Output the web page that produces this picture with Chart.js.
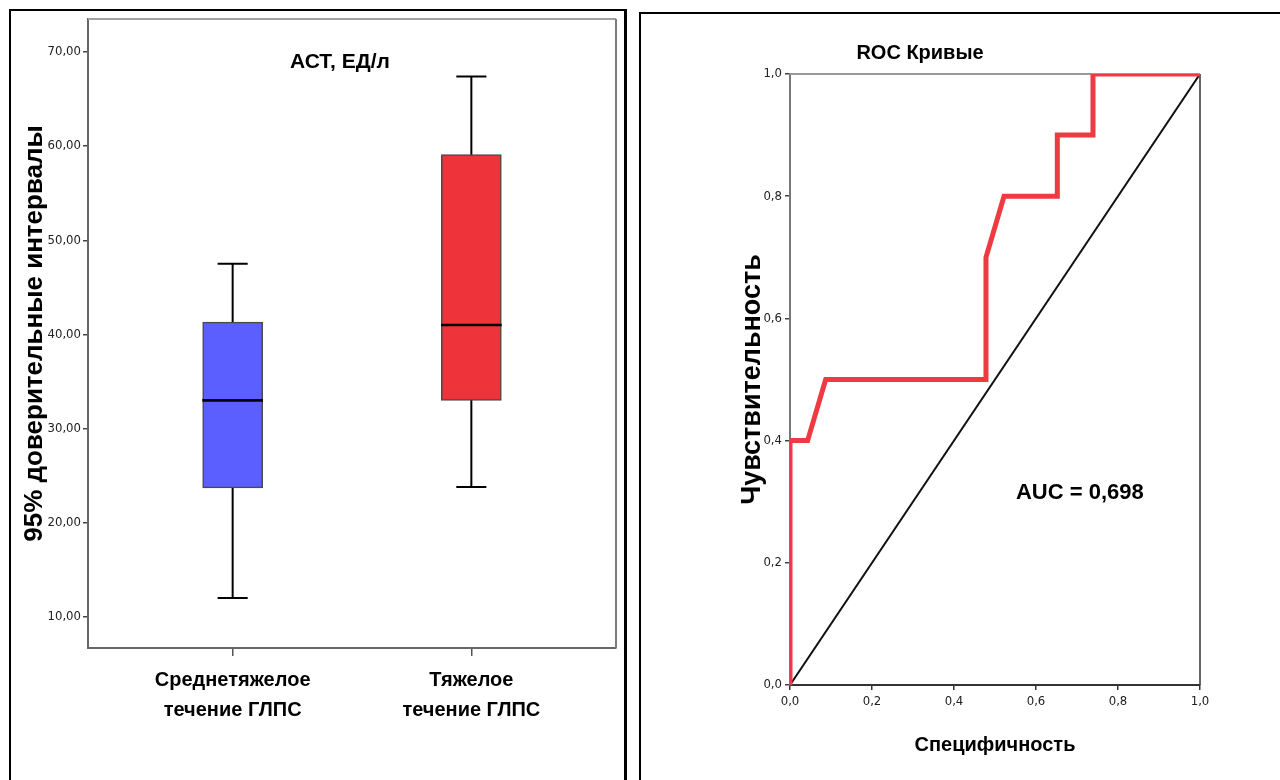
<!doctype html>
<html lang="ru">
    <head>
        <meta charset="UTF-8"/>
        <title>АСТ и ROC</title>
        <script src="https://cdn.jsdelivr.net/npm/chart.js@4.4.0/dist/chart.umd.min.js"></script>
        <style>
         * { margin: 0; padding: 0; }
         body { width: 1280px; height: 780px; overflow: hidden; background: #fff; position: relative; }
         .frame { position: absolute; border: 0 solid #000; }
         #frame-left { left: 9px; top: 9px; width: 613px; height: 800px; border-left-width: 2px; border-top-width: 2px; border-right-width: 3px; }
         #frame-right { left: 639px; top: 12px; width: 700px; height: 800px; border-left-width: 2px; border-top-width: 2px; }
         canvas { position: absolute; top: 0; }
         #box-chart { left: 0; }
         #roc-chart { left: 640px; }
        </style>
    </head>
    <body>
        <div class="frame" id="frame-left"></div>
        <div class="frame" id="frame-right"></div>
        <canvas id="box-chart" width="640" height="780"></canvas>
        <canvas id="roc-chart" width="640" height="780"></canvas>
        <script>
         // АСТ по группам тяжести
         const groupLabels = [['Среднетяжелое', 'течение ГЛПС'], ['Тяжелое', 'течение ГЛПС']];
         const groupPos = [1, 2];
         const whiskerLow = [12.0, 23.8];
         const boxLow = [23.7, 33.0];
         const medians = [33.0, 41.0];
         const boxHigh = [41.3, 59.1];
         const whiskerHigh = [47.5, 67.4];
         const boxColors = ['#5b5fff', '#ef333b'];
         const astTicks = [10, 20, 30, 40, 50, 60, 70];

         // ROC кривая
         const rocX = [0, 0, 0.043, 0.087, 0.478, 0.478, 0.522, 0.652, 0.652, 0.739, 0.739, 1];
         const rocY = [0, 0.4, 0.4, 0.5, 0.5, 0.7, 0.8, 0.8, 0.9, 0.9, 1.0, 1.0];
         const refX = [0, 1];
         const refY = [0, 1];
         const aucLabel = 'AUC = 0,698';
         const aucPos = [0.707, 0.314];

         const NARROW = "'Liberation Sans Narrow', 'Arial Narrow', 'DejaVu Sans Condensed', sans-serif";
         const SANS = "'Liberation Sans', Arial, sans-serif";

         function segs(list) {
             let pts = [];
             list.forEach(s => {
                 pts.push({x: s[0], y: s[1]}, {x: s[2], y: s[3]}, {x: s[2], y: null});
             });
             return pts;
         }

         const capHalf = 0.063;

         // рамка области построения
         const plotFrame = {
             id: 'plotFrame',
             beforeDatasetsDraw(chart, args, opts) {
                 const a = chart.chartArea;
                 const ctx = chart.ctx;
                 ctx.save();
                 ctx.lineWidth = 2;
                 ctx.strokeStyle = opts.top;
                 ctx.beginPath(); ctx.moveTo(a.left, a.top); ctx.lineTo(a.right, a.top); ctx.stroke();
                 ctx.lineWidth = opts.rightWidth;
                 ctx.strokeStyle = opts.right;
                 ctx.beginPath(); ctx.moveTo(a.right, a.top); ctx.lineTo(a.right, a.bottom); ctx.stroke();
                 ctx.restore();
             }
         };

         const innerText = {
             id: 'innerText',
             afterDraw(chart, args, opts) {
                 if (!opts.text) return;
                 const ctx = chart.ctx;
                 let x, y;
                 if (opts.data) {
                     x = chart.scales.x.getPixelForValue(opts.data[0]);
                     y = chart.scales.y.getPixelForValue(opts.data[1]);
                 } else {
                     const a = chart.chartArea;
                     x = (a.left + a.right) / 2 + opts.dx;
                     y = a.top + opts.dy;
                 }
                 ctx.save();
                 ctx.font = opts.font;
                 ctx.fillStyle = '#000';
                 ctx.textAlign = 'center';
                 ctx.textBaseline = 'middle';
                 ctx.fillText(opts.text, x, y);
                 ctx.restore();
             }
         };

         new Chart(document.getElementById('box-chart'), {
             type: 'bar',
             data: {
                 datasets: [{
                     label: 'whiskers',
                     type: 'line',
                     data: segs(groupPos.map((x, i) => [x, whiskerLow[i], x, whiskerHigh[i]])),
                     borderColor: '#000', borderWidth: 2, pointRadius: 0, spanGaps: false, order: 4
                 }, {
                     label: 'caps',
                     type: 'line',
                     data: segs(groupPos.flatMap((x, i) => [
                         [x - capHalf, whiskerLow[i], x + capHalf, whiskerLow[i]],
                         [x - capHalf, whiskerHigh[i], x + capHalf, whiskerHigh[i]]
                     ])),
                     borderColor: '#000', borderWidth: 2, pointRadius: 0, spanGaps: false, order: 3
                 }, {
                     label: 'box',
                     data: groupPos.map((x, i) => ({x: x, y: [boxLow[i], boxHigh[i]]})),
                     backgroundColor: boxColors,
                     borderColor: '#4a4a4a', borderWidth: 1.5, borderSkipped: false,
                     barThickness: 60, grouped: false, order: 2
                 }, {
                     label: 'median',
                     data: groupPos.map((x, i) => ({x: x, y: [medians[i] - 0.1, medians[i] + 0.1]})),
                     backgroundColor: '#000', borderWidth: 0,
                     barThickness: 60, grouped: false, order: 1
                 }]
             },
             options: {
                 responsive: false,
                 animation: false,
                 layout: { padding: { top: 19, right: 24, left: 0, bottom: 32 } },
                 plugins: {
                     legend: { display: false },
                     tooltip: { enabled: false },
                     plotFrame: { top: '#a0a0a0', right: '#7a7a7a', rightWidth: 2 },
                     innerText: { text: 'АСТ, ЕД/л', font: 'bold 21px ' + SANS, dx: -12, dy: 43 }
                 },
                 scales: {
                     x: {
                         type: 'linear', min: 0.394, max: 2.606, offset: false,
                         afterBuildTicks: s => { s.ticks = groupPos.map(v => ({value: v})); },
                         afterFit: s => { s.height = 100; },
                         ticks: {
                             callback: v => groupLabels[groupPos.indexOf(v)],
                             color: '#000', padding: 9, maxRotation: 0,
                             font: { family: SANS, size: 20, weight: 'bold', lineHeight: 1.5 }
                         },
                         grid: { offset: false, drawOnChartArea: false, tickLength: 8, color: '#555', lineWidth: 1.5 },
                         border: { color: '#666', width: 2 }
                     },
                     y: {
                         min: 6.7, max: 73.5,
                         afterBuildTicks: s => { s.ticks = astTicks.map(v => ({value: v})); },
                         afterFit: s => { s.width = 88; },
                         ticks: {
                             callback: v => v.toFixed(2).replace('.', ','),
                             color: '#222', padding: 2,
                             font: { family: NARROW, size: 13 }
                         },
                         grid: { drawOnChartArea: false, tickLength: 5, color: '#444', lineWidth: 1.5 },
                         border: { color: '#666', width: 2 },
                         title: {
                             display: true, text: '95% доверительные интервалы', color: '#000',
                             font: { family: SANS, size: 26, weight: 'bold' },
                             padding: { top: 19, bottom: 0 }
                         }
                     }
                 }
             },
             plugins: [plotFrame, innerText]
         });

         new Chart(document.getElementById('roc-chart'), {
             type: 'scatter',
             data: {
                 datasets: [{
                     label: 'ROC',
                     data: rocX.map((x, i) => ({x: x, y: rocY[i]})),
                     showLine: true, borderColor: '#ee3a40', borderWidth: 5,
                     pointRadius: 0, order: 1
                 }, {
                     label: 'reference',
                     data: refX.map((x, i) => ({x: x, y: refY[i]})),
                     showLine: true, borderColor: '#111', borderWidth: 2,
                     pointRadius: 0, order: 2
                 }]
             },
             options: {
                 responsive: false,
                 animation: false,
                 layout: { padding: { top: 0, right: 80, left: 0, bottom: 0 } },
                 plugins: {
                     legend: { display: false },
                     tooltip: { enabled: false },
                     title: {
                         display: true, text: 'ROC Кривые', color: '#000',
                         font: { family: SANS, size: 20, weight: 'bold' },
                         padding: { top: 41, bottom: 9 }
                     },
                     plotFrame: { top: '#999', right: '#333', rightWidth: 1.5 },
                     innerText: { text: aucLabel, font: 'bold 22px ' + SANS, data: aucPos }
                 },
                 scales: {
                     x: {
                         type: 'linear', min: 0, max: 1,
                         afterFit: s => { s.height = 95; },
                         ticks: {
                             stepSize: 0.2,
                             callback: v => v.toFixed(1).replace('.', ','),
                             color: '#222', padding: 4,
                             font: { family: NARROW, size: 13 }
                         },
                         grid: { drawOnChartArea: false, tickLength: 5, color: '#333', lineWidth: 1.5 },
                         border: { color: '#333', width: 2 },
                         title: {
                             display: true, text: 'Специфичность', color: '#000',
                             font: { family: SANS, size: 20, weight: 'bold' },
                             padding: { top: 0, bottom: 23 }
                         }
                     },
                     y: {
                         min: 0, max: 1,
                         afterFit: s => { s.width = 150; },
                         ticks: {
                             stepSize: 0.2,
                             callback: v => v.toFixed(1).replace('.', ','),
                             color: '#222', padding: 3,
                             font: { family: NARROW, size: 13 }
                         },
                         grid: { drawOnChartArea: false, tickLength: 5, color: '#444', lineWidth: 1.5 },
                         border: { color: '#777', width: 2 },
                         title: {
                             display: true, text: 'Чувствительность', color: '#000',
                             font: { family: SANS, size: 27, weight: 'bold' },
                             padding: { top: 96, bottom: 0 }
                         }
                     }
                 }
             },
             plugins: [plotFrame, innerText]
         });
        </script>
    </body>
</html>
